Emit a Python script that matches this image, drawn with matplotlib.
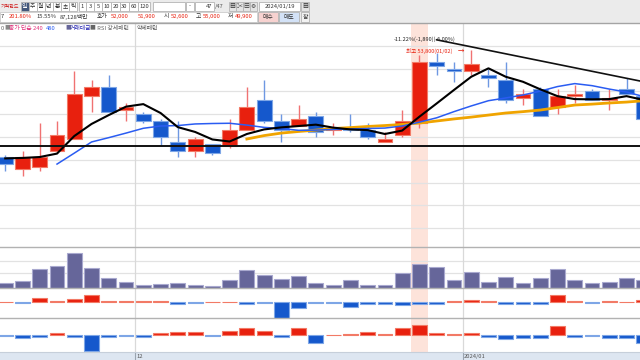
import numpy as np
import matplotlib
matplotlib.use("Agg")
import matplotlib.pyplot as plt
from matplotlib.patches import Rectangle

plt.rcParams['font.family'] = ['Noto Sans CJK KR', 'DejaVu Sans']

# daily candles (won)
opens = [49100, 48600, 48700, 49400, 49900, 51800, 52200, 51200, 51000, 50700,
         49800, 49400, 49700, 49600, 50300, 51600, 50700, 50500, 50900, 50300,
         50400, 50300, 49800, 50100, 50600, 53300, 53000, 52900, 52700, 52500,
         51700, 52100, 51300, 51800, 52000, 51600, 52100, 51800]
highs = [49200, 49400, 50600, 50700, 52900, 52500, 52700, 51500, 51100, 50800,
         50700, 50000, 49700, 50800, 52200, 52500, 51000, 51400, 51100, 50600,
         51000, 50600, 50200, 51200, 53600, 53700, 53300, 53800, 53000, 53300,
         52100, 52200, 52100, 52300, 52100, 52100, 52600, 52000]
lows = [48500, 48300, 48500, 49300, 49900, 51100, 51100, 50700, 50600, 49600,
        49100, 49100, 49200, 49500, 50300, 50600, 49800, 50500, 50000, 50100,
        50200, 49900, 49800, 50000, 50400, 52700, 52400, 52700, 52200, 51500,
        51400, 50900, 51000, 51500, 51600, 51200, 51900, 50600]
closes = [48800, 49100, 49100, 50100, 51900, 52200, 51100, 51300, 50700, 50000,
          49400, 49900, 49300, 50300, 51300, 50700, 50300, 50800, 50200, 50400,
          50300, 50000, 49900, 50700, 53300, 53100, 52900, 53200, 52600, 51600,
          51900, 50900, 51800, 51900, 51600, 51700, 51900, 50800]

# moving average lines
ma_black = [49060, 49080, 49120, 49270, 50040, 50570, 50960, 51330, 51440, 51050,
            50430, 50220, 49890, 49800, 50130, 50330, 50420, 50480, 50540, 50410,
            50330, 50300, 50130, 50280, 50890, 51470, 52060, 52640, 53010, 52640,
            52420, 52090, 51790, 51660, 51650, 51660, 51790, 51620]
nan = np.nan
ma_blue = [nan, nan, nan, 48810, 49290, 49780, 49970, 50170, 50380, 50480,
           50500, 50570, 50590, 50600, 50520, 50420, 50370, 50290, 50300, 50330,
           50350, 50370, 50390, 50480, 50650, 50840, 51110, 51360, 51590, 51710,
           51840, 52010, 52210, 52340, 52250, 52100, 51970, 51770]
ma_orange = [nan] * 14 + [49910, 50060, 50170, 50240, 50300, 50370, 50410, 50460,
                          50500, 50550, 50610, 50700, 50790, 50870, 50960, 51050,
                          51110, 51180, 51290, 51400, 51440, 51490, 51530, 51590]

support = 49610
trend_x = [25, 37]
trend_y = [54260, 52420]

volume = [100, 146, 392, 446, 700, 406, 200, 132, 66, 86, 106, 66, 46, 166, 360,
          272, 186, 246, 100, 60, 160, 66, 60, 300, 486, 426, 160, 326, 126, 226,
          100, 206, 380, 160, 100, 132, 200, 166]
osc1 = [0.5, -0.5, 4, 1.3, 3.3, 7, 1, 1.5, 1.5, 1.5, -1.5, -0.7, 0.5, 0.5, -1.5,
        -1.2, -16, -5.5, -1.3, -1.3, -5, -2, -2, -2.5, -2, -1.5, 1.5, 2.2, 1, -1.5,
        -1.5, -2, 7.5, 1.5, -0.5, 1.5, 0.5, 2]
osc2 = [-1, -2.5, -1.5, 2.7, -1.5, -15.7, -1.5, -1, -1.3, 2, 3.5, 3.5, -0.8, 4.5,
        7, 4.5, -1.5, 7.3, -7.5, 0.5, 1.3, 3, 1.5, 7, 10.3, 2.3, 1.3, 2.7, -1.5,
        -3.5, -2.7, -2.7, 9.3, -1.5, -0.8, -2.7, -2.7, -7.5]

month_pos = [7.5, 26.5]
month_labels = ['12', '2024/01']
highlight = 24

RED, RED_EDGE, RED_WICK = '#e8200e', '#f27a66', '#f07272'
BLUE, BLUE_EDGE, BLUE_WICK = '#1558cc', '#7ea6e6', '#6e98e2'
GRID, BORDER, PINK = '#e2e2e2', '#b2b2b2', '#fde3da'
FS = 4.2

fig = plt.figure(figsize=(6.4, 3.6), dpi=100)
H = 360.0


def panel(top, bottom):
    a = fig.add_axes([0, 1 - bottom / H, 1, (bottom - top) / H])
    a.set_xlim(-0.304, 36.78)
    a.set_xticks([])
    a.set_yticks([])
    for s in a.spines.values():
        s.set_visible(False)
    return a


ax = panel(22.5, 247.3)
axv = panel(247.3, 288.3)
ax2 = panel(288.3, 318.3)
ax3 = panel(318.3, 352)
axx = panel(352, 360)
axx.set_facecolor('#dde6f1')

for a in (ax, axv, ax2, ax3):
    a.axvspan(highlight - 0.5, highlight + 0.5, color=PINK, lw=0, zorder=0)
    for m in month_pos:
        a.axvline(m, color='#d9d9d9', lw=0.9, zorder=0.5)

# price panel
x = np.arange(len(opens))
o = np.array(opens)
c = np.array(closes)
up = c >= o
ax.set_ylim(45160, 55020)
for p in range(46000, 54001, 1000):
    ax.axhline(p, color=GRID, lw=0.9, zorder=0.3)
ax.vlines(x, lows, highs, colors=[RED_WICK if u else BLUE_WICK for u in up], lw=1, zorder=2)
ax.bar(x, np.abs(c - o), bottom=np.minimum(o, c), width=0.86,
       color=[RED if u else BLUE for u in up],
       edgecolor=[RED_EDGE if u else BLUE_EDGE for u in up], lw=0.8, zorder=3)
ax.plot(x, ma_orange, color='#f0a400', lw=2, zorder=4)
ax.plot(x, ma_blue, color='#2a5cf2', lw=1.1, zorder=4)
ax.plot(x, ma_black, color='black', lw=1.5, zorder=5)
ax.axhline(support, color='#111111', lw=1.4, zorder=5)
ax.plot(trend_x, trend_y, color='#111111', lw=1.2, zorder=5)
ax.text(26.1, 54270, '-11.22%(-1,890)(-6.00%)', fontsize=4.0, ha='right', va='center',
        color='#222222', zorder=6)
ax.text(25.9, 53760, '최고 53,800(01/02)', fontsize=4.0, ha='right', va='center',
        color='#e8200e', zorder=6)
ax.text(26.6, 53760, '→', fontsize=4.6, ha='right', va='center', color='#e8200e', zorder=6)

# volume panel
axv.set_ylim(0, 820)
for g in (300, 552):
    axv.axhline(g, color=GRID, lw=0.9, zorder=0.3)
axv.bar(x, volume, width=0.86, color='#66669a', edgecolor='#a9a9cf', lw=0.8, zorder=3)

# two oscillator panels
for a, vals, lim in ((ax2, osc1, (-16.3, 13.7)), (ax3, osc2, (-16.7, 17))):
    v = np.array(vals)
    a.set_ylim(*lim)
    a.bar(x, v, width=0.86, color=[RED if t > 0 else BLUE for t in v],
          edgecolor=[RED_EDGE if t > 0 else BLUE_EDGE for t in v], lw=0.8, zorder=3)

for m, lab in zip(month_pos, month_labels):
    axx.axvline(m, color='#9aa4b0', lw=0.8)
    axx.text(m + 0.08, 0.45, lab, transform=axx.get_xaxis_transform(), fontsize=4.2,
             color='#555555', va='center', ha='left')

# window chrome drawn in pixel coordinates
ov = fig.add_axes([0, 0, 1, 1], zorder=10)
ov.set_xlim(0, 640)
ov.set_ylim(360, 0)
ov.axis('off')
ov.add_patch(Rectangle((0, 0), 640, 22.5, color='#ebebeb', lw=0))
ov.add_patch(Rectangle((0, 11.8), 257, 10, fc='white', ec='#c4c4c4', lw=0.5))
ov.plot([0, 640], [22.6, 22.6], color='#a4a4a4', lw=1)
for yb in (247.3, 288.3, 318.3):
    ov.plot([0, 640], [yb, yb], color=BORDER, lw=1)
ov.plot([0, 640], [352, 352], color='#c6cfda', lw=0.8)


def btn(x0, x1, label, y0=1.5, y1=10.5, fc='white', tc='#333333', ec='#b4b4b4'):
    ov.add_patch(Rectangle((x0, y0), x1 - x0, y1 - y0, fc=fc, ec=ec, lw=0.6))
    ov.text((x0 + x1) / 2, (y0 + y1) / 2 + 0.3, label, fontsize=FS, color=tc,
            ha='center', va='center')


ov.text(0.5, 6.3, '기적한드', fontsize=3.6, color='#d02020', ha='left', va='center')
btn(20.5, 28.5, '일', fc='#44587c', tc='white')
for x0, lab in ((28.5, '주'), (36.5, '월'), (44.5, '년'), (53, '분'), (61, '초'), (69, '틱')):
    btn(x0, x0 + 8, lab)
for x0, x1, lab in ((79, 86, '1'), (86, 94, '3'), (94, 102, '5'), (102, 111, '10'),
                    (111, 120, '20'), (120, 129, '30'), (129, 138, '60'), (138, 150, '120')):
    btn(x0, x1, lab)
btn(153, 185, '')
btn(186, 194, '-')
ov.add_patch(Rectangle((195, 1.5), 19, 9, fc='white', ec='#b4b4b4', lw=0.6))
ov.text(212.5, 6.3, '47', fontsize=FS, color='#333333', ha='right', va='center')
ov.text(215, 6.3, '/47', fontsize=FS, color='#555555', ha='left', va='center')
for x0, lab in ((229, '▦'), (236, '✂'), (243, '▤'), (250, '⚙')):
    btn(x0, x0 + 7, lab, fc='#e4e4e4')
btn(259, 300, '2024/01/19')
btn(301, 309, '▦', fc='#e4e4e4')

row2 = [(0.5, '7', '#333333'), (9, '201.80%', '#e8200e'), (36, '15.55%', '#333333'),
        (60, '87,128백만', '#333333'), (97, '호가', '#333333'), (111, '52,000', '#e8200e'),
        (138, '51,900', '#e8200e'), (164, '시', '#333333'), (171, '52,600', '#e8200e'),
        (196, '고', '#333333'), (203, '55,000', '#e8200e'), (228, '저', '#333333'),
        (235, '49,900', '#e8200e')]
for x0, lab, col in row2:
    ov.text(x0, 16.8, lab, fontsize=FS, color=col, ha='left', va='center')
btn(258, 278, '매수', y0=12, y1=21.5, fc='#f7d2d0')
btn(279, 299, '매도', y0=12, y1=21.5, fc='#d3e2f7')
btn(301, 309, '잠', y0=12, y1=21.5, fc='#f2f2f2')

legend = [(0.5, '0', '#666666'), (4, '■', '#888888'), (9, '종가 단순 240', '#e0307a'),
          (46, '480', '#2a5cf2'), (65, '■', '#66669a'), (70, '거래대금', '#2020b0'),
          (90, '■ RSI 강세패턴', '#666666'), (137, '약세패턴', '#555555')]
for x0, lab, col in legend:
    ov.text(x0, 28, lab, fontsize=FS, color=col, ha='left', va='center')

fig.savefig('out.png', dpi=100)
